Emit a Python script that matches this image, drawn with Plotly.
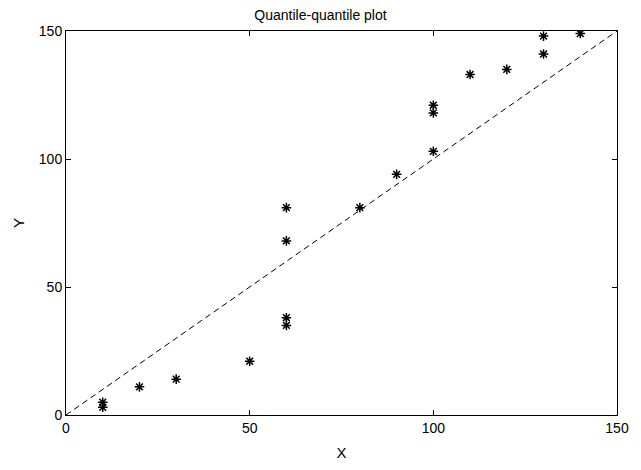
import plotly.graph_objects as go

x_vals = [10, 10, 20, 30, 50, 60, 60, 60, 60, 80, 90, 100, 100, 100, 110, 120, 130, 130, 140]
y_vals = [3, 5, 11, 14, 21, 35, 38, 68, 81, 81, 94, 103, 118, 121, 133, 135, 141, 148, 149]
ref_x = [0, 150]
ref_y = [0, 150]
ticks = [0, 50, 100, 150]

fig = go.Figure()
fig.add_trace(go.Scatter(x=ref_x, y=ref_y, mode="lines",
                         line=dict(color="black", width=1, dash="6px,4px"),
                         showlegend=False, hoverinfo="skip"))
fig.add_trace(go.Scatter(x=x_vals, y=y_vals, mode="markers",
                         marker=dict(symbol="asterisk-open", size=8, color="black",
                                     line=dict(color="black", width=1.5)),
                         showlegend=False))

axis_common = dict(range=[0, 150], tickvals=ticks, ticks="inside", ticklen=5,
                   tickcolor="black", showline=True, linecolor="black", linewidth=1,
                   mirror="ticks", showgrid=False, zeroline=False,
                   tickfont=dict(family="Liberation Sans, Arial", size=14, color="black"))

fig.update_layout(
    width=641, height=470,
    margin=dict(l=66, r=20, t=31, b=52),
    paper_bgcolor="white", plot_bgcolor="white",
    title=dict(text="Quantile-quantile plot", x=0.5, xanchor="center",
               y=0.978, yanchor="top",
               font=dict(family="Liberation Sans, Arial", size=14, color="black")),
    xaxis=dict(**axis_common, title=dict(text="X", standoff=12,
               font=dict(family="Liberation Sans, Arial", size=15, color="black"))),
    yaxis=dict(**axis_common, title=dict(text="Y", standoff=10,
               font=dict(family="Liberation Sans, Arial", size=15, color="black"))),
)

fig.write_html("out.html")
